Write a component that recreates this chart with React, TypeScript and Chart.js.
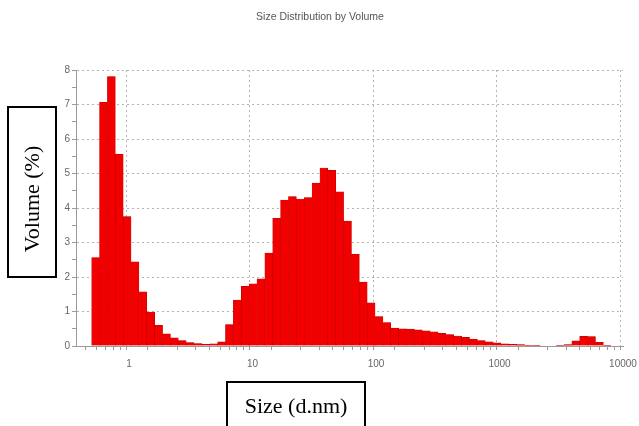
import React, { useEffect, useRef } from 'react';
import { Chart, registerables } from 'chart.js';

Chart.register(...registerables);

// Size classes (nm) – log spaced
const SIZES_NM = [
  0.4, 0.4632, 0.5365, 0.6213, 0.7195, 0.8332, 0.9649, 1.117, 1.294, 1.499,
  1.736, 2.01, 2.328, 2.696, 3.122, 3.615, 4.187, 4.849, 5.615, 6.503,
  7.531, 8.721, 10.1, 11.7, 13.54, 15.69, 18.17, 21.04, 24.36, 28.21,
  32.67, 37.84, 43.82, 50.75, 58.77, 68.06, 78.82, 91.28, 105.7, 122.4,
  141.8, 164.2, 190.1, 220.2, 255.0, 295.3, 342.0, 396.1, 458.7, 531.2,
  615.1, 712.4, 825.0, 955.4, 1106, 1281, 1484, 1718, 1990, 2305,
  2669, 3091, 3580, 4145, 4801, 5560, 6439, 7456, 8635, 10000,
];

// Volume (%) per size class
const VOLUME_PCT = [
  0, 0, 2.56, 7.06, 7.81, 5.56, 3.75, 2.44, 1.57, 0.98,
  0.6, 0.35, 0.24, 0.16, 0.1, 0.07, 0.05, 0.06, 0.12, 0.62,
  1.33, 1.73, 1.8, 1.95, 2.69, 3.7, 4.23, 4.33, 4.26, 4.3,
  4.72, 5.16, 5.09, 4.47, 3.62, 2.66, 1.85, 1.25, 0.85, 0.68,
  0.52, 0.5, 0.49, 0.47, 0.44, 0.41, 0.37, 0.33, 0.29, 0.25,
  0.2, 0.16, 0.12, 0.09, 0.06, 0.05, 0.04, 0.02, 0.01, 0,
  0, 0.01, 0.04, 0.15, 0.28, 0.27, 0.11, 0.02, 0, 0,
];

const X_MAJOR_TICKS = [1, 10, 100, 1000, 10000];
const X_MINOR_MULTIPLIERS = [2, 3, 4, 5, 6, 7, 8, 9];
const Y_MAJOR_TICKS = [0, 1, 2, 3, 4, 5, 6, 7, 8];

const TITLE = 'Size Distribution by Volume';
const X_LABEL = 'Size (d.nm)';
const Y_LABEL = 'Volume (%)';

const X_MIN = 0.372;
const X_MAX = 10000;

const isMajorX = (v: number) => X_MAJOR_TICKS.some((m) => Math.abs(m - v) / m < 1e-6);
const isMajorY = (v: number) => Y_MAJOR_TICKS.includes(v);

const boxedLabels = {
  id: 'boxedLabels',
  afterDraw(chart: any) {
    const ctx = chart.ctx as CanvasRenderingContext2D;
    ctx.save();
    // chart title
    ctx.fillStyle = '#555';
    ctx.font = '10.5px "Liberation Sans", Arial, sans-serif';
    ctx.textAlign = 'center';
    ctx.textBaseline = 'middle';
    ctx.fillText(TITLE, 320, 17);
    // boxed axis titles
    ctx.strokeStyle = '#000';
    ctx.lineWidth = 2;
    ctx.strokeRect(8, 107, 48, 170);
    ctx.strokeRect(227, 382, 138, 60);
    ctx.fillStyle = '#000';
    ctx.font = '22px "Liberation Serif", "Times New Roman", serif';
    ctx.fillText(X_LABEL, 296, 407);
    ctx.translate(33, 199);
    ctx.rotate(-Math.PI / 2);
    ctx.fillText(Y_LABEL, 0, 0);
    ctx.restore();
  },
};

export default function App() {
  const canvasRef = useRef<HTMLCanvasElement | null>(null);

  useEffect(() => {
    if (!canvasRef.current) return;

    const xTickValues: number[] = [];
    [0.1, 1, 10, 100, 1000].forEach((dec) => {
      [1, ...X_MINOR_MULTIPLIERS].forEach((m) => {
        const v = dec * m;
        if (v >= X_MIN && v <= X_MAX) xTickValues.push(v);
      });
    });
    xTickValues.push(10000);
    const yTickValues: number[] = [];
    Y_MAJOR_TICKS.forEach((t, i) => {
      yTickValues.push(t);
      if (i < Y_MAJOR_TICKS.length - 1) yTickValues.push(t + 0.5);
    });

    const tickFont = { family: '"Liberation Sans", Arial, sans-serif', size: 10 };

    const chart = new Chart(canvasRef.current, {
      type: 'bar',
      data: {
        datasets: [
          {
            data: SIZES_NM.map((s, i) => ({ x: s, y: VOLUME_PCT[i] })),
            backgroundColor: '#f20000',
            borderColor: '#b40000',
            borderWidth: 0.5,
            barThickness: 'flex',
            barPercentage: 1,
            categoryPercentage: 1,
          },
        ],
      },
      options: {
        animation: false,
        responsive: true,
        maintainAspectRatio: false,
        layout: { padding: { left: 0, right: 16, top: 70, bottom: 0 } },
        plugins: {
          legend: { display: false },
          tooltip: { enabled: false },
          title: { display: false },
        },
        scales: {
          x: {
            type: 'logarithmic',
            min: X_MIN,
            max: X_MAX,
            afterFit: (scale: any) => {
              scale.height = 80;
              scale.paddingLeft = 0;
              scale.paddingRight = 0;
            },
            afterBuildTicks: (scale: any) => {
              scale.ticks = xTickValues.map((v) => ({ value: v, major: isMajorX(v) }));
            },
            ticks: {
              autoSkip: false,
              maxRotation: 0,
              color: '#666',
              font: tickFont,
              padding: 8,
              callback: (v: any) => (isMajorX(Number(v)) ? String(Math.round(Number(v))) : ''),
            },
            grid: {
              color: (c: any) => (c.tick && isMajorX(c.tick.value) ? '#b4b4b4' : 'rgba(0,0,0,0)'),
              tickColor: '#9a9a9a',
              tickLength: 4,
              lineWidth: 1,
            },
            border: { display: true, color: '#9a9a9a', width: 1, dash: [2, 3] },
          },
          y: {
            type: 'linear',
            min: 0,
            max: 8,
            afterFit: (scale: any) => {
              scale.width = 76;
              scale.paddingTop = 0;
              scale.paddingBottom = 0;
            },
            afterBuildTicks: (scale: any) => {
              scale.ticks = yTickValues.map((v) => ({ value: v }));
            },
            ticks: {
              autoSkip: false,
              color: '#666',
              font: tickFont,
              padding: 2,
              callback: (v: any) => (isMajorY(Number(v)) ? String(v) : ''),
            },
            grid: {
              color: (c: any) => (c.tick && isMajorY(c.tick.value) ? '#b4b4b4' : 'rgba(0,0,0,0)'),
              tickColor: '#9a9a9a',
              tickLength: 4,
              lineWidth: 1,
            },
            border: { display: true, color: '#9a9a9a', width: 1, dash: [2, 3] },
          },
        },
      },
      plugins: [boxedLabels],
    } as any);

    return () => chart.destroy();
  }, []);

  return (
    <div style={{ position: 'fixed', left: 0, top: 0, width: 639, height: 426, background: '#fff' }}>
      <canvas ref={canvasRef} width={639} height={426} />
    </div>
  );
}
